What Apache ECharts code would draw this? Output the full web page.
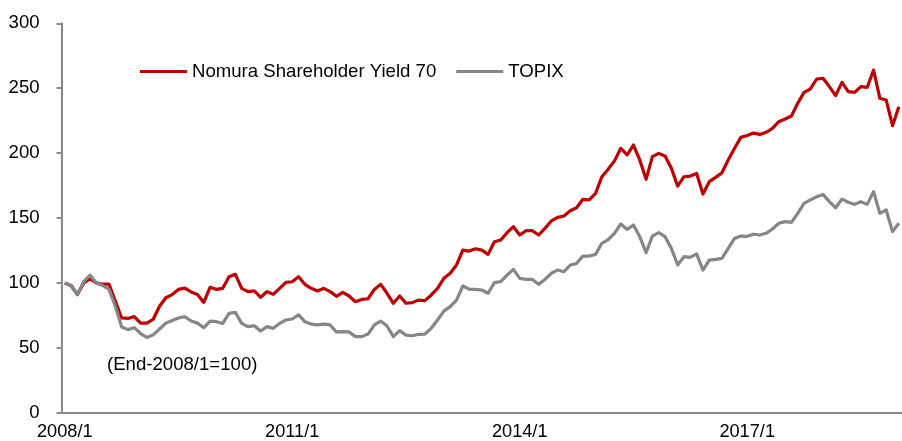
<!DOCTYPE html>
<html>
<head>
<meta charset="utf-8">
<script src="https://cdn.jsdelivr.net/npm/echarts@6.0.0/dist/echarts.min.js"></script>
<style>
  html, body { margin: 0; padding: 0; background: #fff; }
  #main { width: 902px; height: 441px; }
</style>
</head>
<body>
<div id="main"></div>
<script>
// monthly index, End-2008/1 = 100
var startYear = 2008;
var nMonths = 133;

var nsy70 = [
  100, 98, 91, 100, 103, 100, 99, 99, 86, 73,
  72.6, 74, 69, 69, 72, 82, 88.6, 91, 95, 96,
  93, 91, 85, 96.6, 95, 95.8, 104.8, 106.6, 95.8, 93.3,
  93.8, 88.9, 93.3, 91.2, 95.8, 100.4, 100.9, 104.8, 98.9, 95.8,
  93.8, 95.8, 93.3, 89.7, 92.7, 89.9, 85.5, 87.3, 87.8, 95,
  98.9, 92, 84.3, 89.9, 84.3, 84.8, 86.8, 86.3, 90.7, 95.8,
  103.5, 107.4, 113.8, 125.3, 124.5, 126.3, 125.3, 122, 131.7, 133,
  138.7, 143.3, 136.9, 140.2, 140.2, 136.9, 142, 147.7, 150.5, 151.5,
  155.6, 157.9, 164.4, 163.9, 169, 181.8, 187.5, 194, 203.7, 198.6,
  206.2, 194.7, 179.8, 197.3, 199.8, 197.8, 188.3, 174.5, 181.8, 182.3,
  184.3, 168.5, 178, 181.3, 184.8, 194.7, 203.7, 212.1, 213.6, 215.4,
  214.4, 216, 219.1, 224.2, 226.3, 228.6, 238.4, 246.8, 249.4, 257.1,
  257.6, 251.2, 244.3, 254.5, 247.3, 246.8, 251.2, 250.7, 264, 242.2,
  240.9, 221.1, 235.7
];

var topix = [
  100, 98, 91, 101, 106, 100, 98, 95, 82, 66,
  64, 65.5, 61, 58, 60, 64.5, 69, 71, 73, 74,
  70.6, 69, 65.5, 70.6, 70.1, 68.8, 76.5, 77.3, 68.8, 66.3,
  67, 62.9, 66.3, 65, 68.8, 71.4, 72.2, 75.3, 70.1, 68.3,
  67.6, 68.3, 67.6, 62.2, 62.4, 62.2, 58.6, 58.6, 60.6, 67.6,
  70.6, 66.8, 58.6, 63.2, 59.8, 59.3, 60.4, 60.6, 65, 71.4,
  78.3, 81.7, 86.8, 97.6, 95.2, 95, 94.5, 92, 100.2, 101,
  106, 110.4, 103.5, 102.7, 102.7, 98.9, 102.7, 107.4, 109.9, 108.6,
  113.8, 115, 120.7, 120.7, 122, 130.5, 133.3, 138.2, 145.4, 141.2,
  144.6, 135.6, 123.3, 136.1, 138.7, 135.6, 126.6, 113.8, 120.2, 119.7,
  122.3, 109.9, 117.6, 118.1, 118.9, 126.6, 134.3, 136.1, 135.9, 137.5,
  136.9, 138.2, 141.5, 145.9, 147.2, 146.6, 153.6, 161.3, 163.9, 166.4,
  168.2, 162.6, 157.9, 164.6, 162.1, 160.5, 162.6, 160.5, 170.3, 153.6,
  156.2, 139.5, 145.9
];

var months = [];
for (var i = 0; i < nMonths; i++) {
  months.push((startYear + Math.floor(i / 12)) + '/' + (i % 12 + 1));
}

var yTicks = [0, 50, 100, 150, 200, 250, 300];

var font = 'Liberation Sans, Arial, sans-serif';
var fs = 18.6;
var axisGray = '#8a8a8a';

var myChart = echarts.init(document.getElementById('main'));

var option = {
  animation: false,
  backgroundColor: '#fff',
  textStyle: { fontFamily: font },
  grid: {
    left: 61.6,
    top: 23.3,
    width: 843.8,
    height: 389.4
  },
  legend: {
    left: 140,
    top: 62,
    padding: 0,
    itemWidth: 47,
    itemHeight: 3,
    itemGap: 20,
    icon: 'rect',
    textStyle: { fontSize: fs, color: '#000', fontFamily: font },
    data: ['Nomura Shareholder Yield 70', 'TOPIX']
  },
  xAxis: {
    type: 'category',
    data: months,
    boundaryGap: true,
    axisLine: { lineStyle: { color: axisGray, width: 2 } },
    axisTick: { interval: 35, length: 5, lineStyle: { color: axisGray, width: 2 } },
    axisLabel: { interval: 35, margin: 10, fontSize: 18.2, color: '#000', fontFamily: font },
    splitLine: { show: false }
  },
  yAxis: {
    type: 'value',
    min: yTicks[0],
    max: yTicks[yTicks.length - 1],
    interval: 50,
    axisLine: { show: true, lineStyle: { color: axisGray, width: 2 } },
    axisTick: { show: true, length: 5, lineStyle: { color: axisGray, width: 2 } },
    axisLabel: { margin: 22, fontSize: fs, color: '#000', fontFamily: font },
    splitLine: { show: false }
  },
  graphic: [{
    type: 'text',
    left: 107,
    top: 355,
    style: { text: '(End-2008/1=100)', fontSize: fs, fill: '#000', fontFamily: font }
  }],
  series: [
    {
      name: 'Nomura Shareholder Yield 70',
      type: 'line',
      data: nsy70,
      symbol: 'none',
      color: '#c00000',
      lineStyle: { color: '#c00000', width: 3.2, join: 'round' }
    },
    {
      name: 'TOPIX',
      type: 'line',
      data: topix,
      symbol: 'none',
      color: '#868686',
      lineStyle: { color: '#868686', width: 3.2, join: 'round' }
    }
  ]
};

myChart.setOption(option);
</script>
</body>
</html>
